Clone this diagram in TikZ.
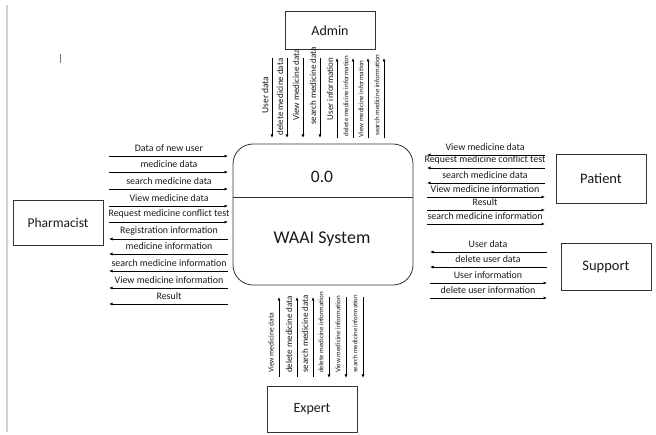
\documentclass[tikz,border=0pt]{standalone}
\usepackage{fontspec}
\setmainfont{Carlito}
\usetikzlibrary{arrows.meta}
\begin{document}
\begin{tikzpicture}[x=1pt,y=-1pt,
  entity/.style={draw=black!80, line width=0.8pt, minimum width=90pt, inner sep=0pt, text=black!90},
  flow/.style={-{Latex[length=3.5pt,width=3pt]}, line width=0.75pt},
  lbl/.style={inner sep=0pt, text=black!90, font=\fontsize{9.9}{10}\selectfont},
  vlbl/.style={inner sep=0pt, text=black!90, rotate=90},
]
\useasboundingbox (0,0) rectangle (656,435);
% page margin line and cursor
\coordinate (mt) at (7,5); \coordinate (mb) at (7,432);
\draw[black!18, line width=1.5pt] (mt) -- (mb);
\coordinate (ct) at (60,54); \coordinate (cb) at (60,63);
\draw[black!55, line width=1pt] (ct) -- (cb);

% entities
\node[entity, minimum height=38pt, font=\fontsize{14}{15}\selectfont] (admin) at (330,30.5) {Admin};
\node[entity, minimum height=45pt, font=\fontsize{13.5}{15}\selectfont] (pharm) at (58,222.5) {Pharmacist};
\node[entity, minimum height=49pt, font=\fontsize{14.5}{15}\selectfont] (patient) at (601,179) {Patient};
\node[entity, minimum height=47pt, font=\fontsize{14.5}{15}\selectfont] (support) at (606,266.5) {Support};
\node[entity, minimum height=46pt, font=\fontsize{14}{15}\selectfont] (expert) at (312,409) {Expert};

% process
\node[draw=black!80, line width=0.8pt, rounded corners=20pt, minimum width=180pt, minimum height=141pt, inner sep=0pt] (proc) at (323,214.5) {};
\coordinate (div) at (323,197);
\draw[black!80, line width=0.8pt] (proc.west |- div) -- (proc.east |- div);
\node[inner sep=0pt, text=black!90, font=\fontsize{17.5}{18}\selectfont] (num) at (322,177) {0.0};
\node[inner sep=0pt, text=black!90, font=\fontsize{18}{19}\selectfont] (pname) at (322,239) {WAAI System};

% Pharmacist -> system
\foreach \i/\y/\t in {1/156/Data of new user, 2/172/medicine data, 3/189/search medicine data, 4/206/View medicine data, 5/222/Request medicine conflict test}{
  \coordinate (pa\i) at (109,\y); \coordinate (pb\i) at (228,\y);
  \draw[flow] (pa\i) -- (pb\i);
  \node[lbl] (pt\i) at (169,\y-8) {\t};
}
% system -> Pharmacist
\foreach \i/\y/\t in {6/239/Registration information, 7/254/medicine information, 8/271/search medicine information, 9/288/View medicine information, 10/304/Result}{
  \coordinate (pa\i) at (228,\y); \coordinate (pb\i) at (109,\y);
  \draw[flow] (pa\i) -- (pb\i);
  \node[lbl] (pt\i) at (169,\y-8) {\t};
}
% Patient -> system
\foreach \i/\y/\t in {1/155/View medicine data, 2/168/Request medicine conflict test, 3/183/search medicine data}{
  \coordinate (qa\i) at (545,\y); \coordinate (qb\i) at (427,\y);
  \draw[flow] (qa\i) -- (qb\i);
  \node[lbl] (qt\i) at (485,\y-8) {\t};
}
% system -> Patient
\foreach \i/\y/\t in {4/197/View medicine information, 5/210/Result, 6/224/search medicine information}{
  \coordinate (qa\i) at (427,\y); \coordinate (qb\i) at (545,\y);
  \draw[flow] (qa\i) -- (qb\i);
  \node[lbl] (qt\i) at (485,\y-8) {\t};
}
% Support -> system
\foreach \i/\y/\t in {1/252/User data, 2/267/delete user data}{
  \coordinate (sa\i) at (547,\y); \coordinate (sb\i) at (430,\y);
  \draw[flow] (sa\i) -- (sb\i);
  \node[lbl] (st\i) at (488,\y-8) {\t};
}
% system -> Support
\foreach \i/\y/\t in {3/283/User information, 4/298/delete user information}{
  \coordinate (sa\i) at (430,\y); \coordinate (sb\i) at (547,\y);
  \draw[flow] (sa\i) -- (sb\i);
  \node[lbl] (st\i) at (488,\y-8) {\t};
}
% Admin -> system (down)
\foreach \i/\x/\t/\ly/\fs in {1/272/User data/95/9.5, 2/287/delete medicine data/97/9, 3/303/View medicine data/85/9, 4/320/search medicine data/86/9}{
  \coordinate (aa\i) at (\x,58); \coordinate (ab\i) at (\x,138);
  \draw[flow] (aa\i) -- (ab\i);
  \node[vlbl, font={\fontsize{\fs}{\fs}\selectfont}] (at\i) at (\x-7,\ly) {\t};
}
% system -> Admin (up)
\foreach \i/\x/\t/\ly/\fs in {5/337/User information/89/9, 6/353/delete medicine information/96/7, 7/368/View medicine information/99/7, 8/384/search medicine information/95/7}{
  \coordinate (aa\i) at (\x,138); \coordinate (ab\i) at (\x,58);
  \draw[flow] (aa\i) -- (ab\i);
  \node[vlbl, font={\fontsize{\fs}{\fs}\selectfont}] (at\i) at (\x-7,\ly) {\t};
}
% Expert -> system (up)
\foreach \i/\x/\t/\fs in {1/279/View medicine data/7.5, 2/297/delete medicine data/9, 3/313/search medicine data/9}{
  \coordinate (ea\i) at (\x,377); \coordinate (eb\i) at (\x,297);
  \draw[flow] (ea\i) -- (eb\i);
  \node[vlbl, anchor=west, font={\fontsize{\fs}{\fs}\selectfont}] (et\i) at (\x-8,373) {\t};
}
% system -> Expert (down)
\foreach \i/\x/\t/\fs in {4/329/delete medicine information/7, 5/346/View medicine information/7, 6/363/search medicine information/6.7}{
  \coordinate (ea\i) at (\x,297); \coordinate (eb\i) at (\x,378);
  \draw[flow] (ea\i) -- (eb\i);
  \node[vlbl, anchor=west, font={\fontsize{\fs}{\fs}\selectfont}] (et\i) at (\x-8,373) {\t};
}
\end{tikzpicture}
\end{document}
